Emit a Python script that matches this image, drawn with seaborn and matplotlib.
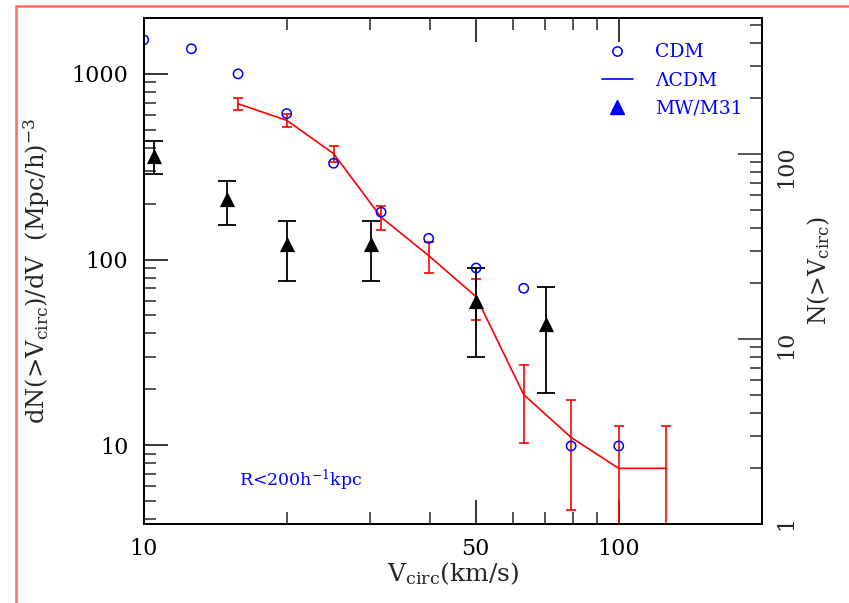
import numpy as np
import pandas as pd
import matplotlib
matplotlib.use("Agg")
import matplotlib.pyplot as plt
import seaborn as sns
from matplotlib.lines import Line2D
from matplotlib.patches import Rectangle
from matplotlib.ticker import FixedLocator, FixedFormatter, NullFormatter

# ---------------- data ----------------
cdm_v = [10.0, 12.6, 15.8, 20.0, 25.1, 31.6, 39.8, 50.1, 63.1, 79.4, 100.0]
cdm_n = [1525, 1365, 1000, 611, 330, 180, 130, 90, 70, 9.9, 9.9]

lcdm_v = [15.8, 20.0, 25.1, 31.6, 39.8, 50.1, 63.1, 79.4, 100.0, 125.9]
lcdm_n = [690, 562, 372, 169, 105, 63, 18.7, 11.0, 7.5, 7.5]
lcdm_err = [50, 45, 36, 25, 20, 16, 8.4, 6.5, 5.2, 5.2]

mw_v = [10.5, 15.0, 20.0, 30.1, 50.1, 70.2]
mw_n = [362, 212, 121, 121, 60, 45]
mw_lo = [288, 154, 77, 77, 30, 19]
mw_hi = [434, 266, 162, 162, 90, 71]

x_ticks = [10, 50, 100]
x_ticklabels = ["10", "50", "100"]
y_ticks = [10, 100, 1000]
y_ticklabels = ["10", "100", "1000"]
y2_ticks = [1, 10, 100]
y2_ticklabels = ["1", "10", "100"]

# ---------------- style ----------------
sns.set_style("white")
plt.rcParams["font.family"] = ["DejaVu Serif"]
plt.rcParams["mathtext.fontset"] = "dejavuserif"

fig = plt.figure(figsize=(8.49, 6.03), dpi=100)
ax = fig.add_axes([143.7 / 849, 1 - 524 / 603, 618 / 849, 506 / 603])

# orange frame
fig.add_artist(Rectangle((16 / 849, -0.1), 1.2, 1.1 - 6 / 603,
                         transform=fig.transFigure, fill=False,
                         edgecolor="#FF6F5E", linewidth=1.8))

ax.set_xscale("log")
ax.set_yscale("log")
ax.set_xlim(10, 200)
ax.set_ylim(3.76, 2000)

cdm_df = pd.DataFrame({"v": cdm_v, "n": cdm_n})
lcdm_df = pd.DataFrame({"v": lcdm_v, "n": lcdm_n, "err": lcdm_err})
mw_df = pd.DataFrame({"v": mw_v, "n": mw_n, "lo": mw_lo, "hi": mw_hi})

# LCDM line + errors
sns.lineplot(data=lcdm_df, x="v", y="n", color="red", lw=1.2,
             estimator=None, sort=False, ax=ax)
ax.errorbar(lcdm_df["v"], lcdm_df["n"], yerr=lcdm_df["err"], fmt="none",
            ecolor="red", elinewidth=1.2, capsize=3.3, capthick=1.2)

# MW/M31 errors + triangles
ax.errorbar(mw_df["v"], mw_df["n"],
            yerr=[mw_df["n"] - mw_df["lo"], mw_df["hi"] - mw_df["n"]],
            fmt="none", ecolor="black", elinewidth=1.3, capsize=6.5,
            capthick=1.3)
sns.scatterplot(data=mw_df, x="v", y="n", marker="^", s=120,
                color="black", edgecolor="black", linewidth=0, ax=ax,
                zorder=5)

# CDM open circles
sns.scatterplot(data=cdm_df, x="v", y="n", marker="o", s=45,
                facecolor="none", edgecolor="blue", linewidth=1.1, ax=ax,
                zorder=6)

# ticks
tick_fs = 16
ax.xaxis.set_major_locator(FixedLocator(x_ticks))
ax.xaxis.set_major_formatter(FixedFormatter(x_ticklabels))
ax.xaxis.set_minor_locator(FixedLocator([20, 30, 40, 60, 70, 80, 90]))
ax.xaxis.set_minor_formatter(NullFormatter())
ax.yaxis.set_major_locator(FixedLocator(y_ticks))
ax.yaxis.set_major_formatter(FixedFormatter(y_ticklabels))
ax.yaxis.set_minor_locator(FixedLocator(
    [4, 5, 6, 7, 8, 9, 20, 30, 40, 50, 60, 70, 80, 90,
     200, 300, 400, 500, 600, 700, 800, 900]))
ax.yaxis.set_minor_formatter(NullFormatter())
ax.tick_params(axis="both", which="major", direction="in", length=17,
               width=1.1, labelsize=tick_fs, colors="black")
ax.tick_params(axis="both", which="minor", direction="in", length=8.5,
               width=1.1)
ax.tick_params(axis="x", which="both", top=True, bottom=True, pad=10)
ax.tick_params(axis="y", which="both", left=True, right=False, pad=11)
for s in ax.spines.values():
    s.set_linewidth(1.4)
    s.set_color("black")

# right axis
ax2 = ax.twinx()
ax2.set_yscale("log")
ax2.set_ylim(1, 543)
ax2.yaxis.set_major_locator(FixedLocator(y2_ticks))
ax2.yaxis.set_major_formatter(FixedFormatter(y2_ticklabels))
ax2.yaxis.set_minor_locator(FixedLocator(
    [2, 3, 4, 5, 6, 7, 8, 9, 20, 30, 40, 50, 60, 70, 80, 90,
     200, 300, 400, 500]))
ax2.yaxis.set_minor_formatter(NullFormatter())
ax2.tick_params(axis="y", which="major", direction="in", length=17,
                width=1.1, labelsize=tick_fs, labelrotation=90, pad=10)
ax2.tick_params(axis="y", which="minor", direction="in", length=8.5,
                width=1.1)
for s in ax2.spines.values():
    s.set_linewidth(1.4)
    s.set_color("black")

# labels
ax.set_xlabel(r"V$_{\rm circ}$(km/s)", fontsize=18)
ax.xaxis.set_label_coords(0.5, -0.072)
ax.set_ylabel(r"dN(>V$_{\rm circ}$)/dV  (Mpc/h)$^{-3}$", fontsize=17.5)
ax.yaxis.set_label_coords(-0.148, 0.5)
ax2.set_ylabel(r"N(>V$_{\rm circ}$)", fontsize=17, rotation=90)
ax2.yaxis.set_label_coords(1.07, 0.5)

ax.text(0.253, 0.087, r"R<200h$^{-1}$kpc", transform=ax.transAxes,
        color="blue", fontsize=12.5, ha="center", va="center")

# legend
handles = [
    Line2D([], [], marker="o", mfc="none", mec="blue", ls="", ms=6.7, mew=1.1),
    Line2D([], [], color="blue", lw=1.2),
    Line2D([], [], marker="^", color="blue", ls="", ms=10.5),
]
labels = ["CDM", "ΛCDM", "MW/M31"]
ax.legend(handles, labels, loc="upper left", bbox_to_anchor=(0.741, 0.95),
          frameon=False, fontsize=13.5, labelcolor="blue", borderpad=0,
          borderaxespad=0, handlelength=1.67, handletextpad=1.2,
          labelspacing=0.55)

fig.savefig("out.png", dpi=100)
